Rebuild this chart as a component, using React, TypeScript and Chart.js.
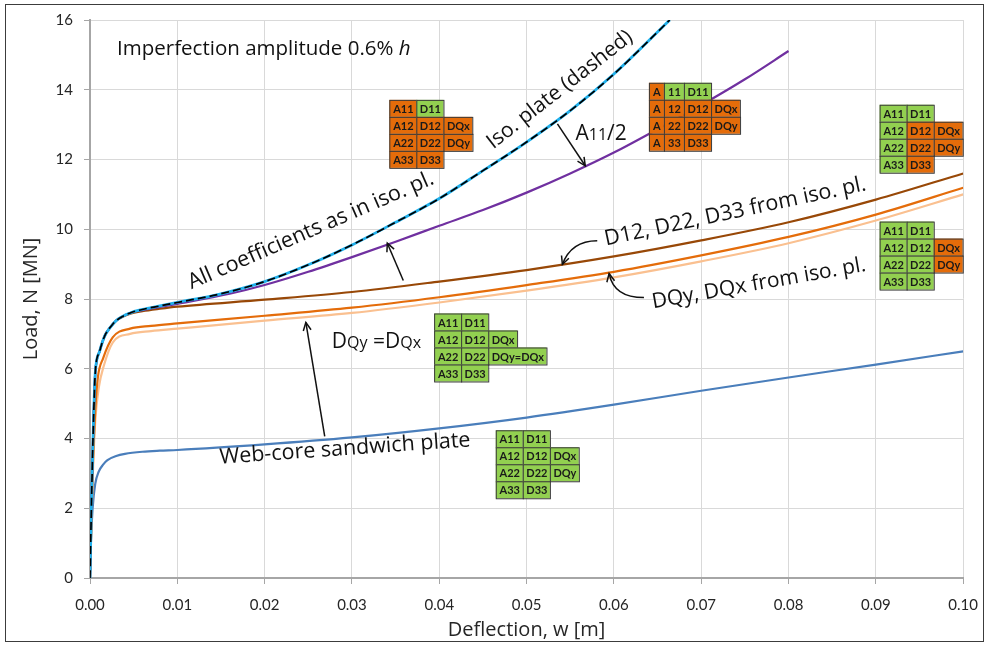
import React, { useEffect, useRef } from "react";
import { Chart, registerables } from "chart.js";
Chart.register(...registerables);

// ---------- data (deflection w [m] vs load N [MN]) ----------
const webX = [0, 0.0001, 0.0003, 0.0006, 0.001, 0.0015, 0.002, 0.003, 0.004, 0.006, 0.008, 0.01, 0.02, 0.03, 0.04, 0.05, 0.06, 0.07, 0.08, 0.09, 0.1];
const webY = [0, 1.0, 2.0, 2.7, 3.05, 3.25, 3.38, 3.5, 3.56, 3.62, 3.65, 3.67, 3.83, 4.03, 4.29, 4.6, 4.97, 5.37, 5.75, 6.12, 6.5];

const dqEqX = [0, 0.0003, 0.0006, 0.001, 0.0016, 0.0026, 0.0046, 0.007, 0.01, 0.02, 0.03, 0.04, 0.05, 0.06, 0.07, 0.08, 0.09, 0.1];
const dqEqY = [0, 2.8, 4.5, 5.45, 6.1, 6.75, 7.0, 7.08, 7.15, 7.38, 7.6, 7.9, 8.24, 8.62, 9.08, 9.6, 10.25, 11.0];

const dqIsoX = [0, 0.0003, 0.0006, 0.0009, 0.0015, 0.0026, 0.0046, 0.007, 0.01, 0.02, 0.03, 0.04, 0.05, 0.06, 0.07, 0.08, 0.09, 0.1];
const dqIsoY = [0, 3.0, 4.8, 5.75, 6.3, 6.9, 7.15, 7.23, 7.3, 7.52, 7.75, 8.05, 8.4, 8.78, 9.25, 9.78, 10.42, 11.19];

const dIsoX = [0, 0.0002, 0.0004, 0.0006, 0.0011, 0.0017, 0.0023, 0.003, 0.0046, 0.006, 0.008, 0.01, 0.02, 0.03, 0.04, 0.05, 0.06, 0.07, 0.08, 0.09, 0.1];
const dIsoY = [0, 2.5, 4.5, 5.87, 6.5, 6.95, 7.18, 7.38, 7.58, 7.65, 7.72, 7.78, 7.98, 8.2, 8.5, 8.83, 9.22, 9.68, 10.2, 10.85, 11.6];

const a11X = [0, 0.0002, 0.0004, 0.0006, 0.0011, 0.0017, 0.0023, 0.003, 0.0046, 0.006, 0.008, 0.01, 0.016, 0.02, 0.025, 0.03, 0.035, 0.04, 0.045, 0.05, 0.055, 0.06, 0.065, 0.07, 0.075, 0.08];
const a11Y = [0, 2.5, 4.5, 5.87, 6.5, 6.95, 7.18, 7.38, 7.6, 7.68, 7.77, 7.86, 8.15, 8.4, 8.78, 9.2, 9.64, 10.1, 10.55, 11.05, 11.6, 12.2, 12.87, 13.56, 14.3, 15.11];

const isoX = [0, 0.0002, 0.0004, 0.0006, 0.0011, 0.0017, 0.0023, 0.003, 0.0046, 0.006, 0.008, 0.01, 0.015, 0.02, 0.025, 0.03, 0.035, 0.04, 0.045, 0.05, 0.055, 0.06, 0.0664];
const isoY = [0, 2.5, 4.5, 5.87, 6.5, 6.95, 7.18, 7.38, 7.6, 7.7, 7.8, 7.9, 8.15, 8.5, 8.98, 9.55, 10.2, 10.88, 11.68, 12.5, 13.4, 14.45, 16];

const xTicks = [0, 0.01, 0.02, 0.03, 0.04, 0.05, 0.06, 0.07, 0.08, 0.09, 0.1];
const yTicks = [0, 2, 4, 6, 8, 10, 12, 14, 16];

// ---------- coefficient tables ----------
const tIsoText = [["A11", "D11"], ["A12", "D12", "DQx"], ["A22", "D22", "DQy"], ["A33", "D33"]];
const tIsoFill = [["o", "g"], ["o", "o", "o"], ["o", "o", "o"], ["o", "o"]];
const tA11Text = [["A", "11", "D11"], ["A", "12", "D12", "DQx"], ["A", "22", "D22", "DQy"], ["A", "33", "D33"]];
const tA11Fill = [["o", "g", "g"], ["o", "o", "o", "o"], ["o", "o", "o", "o"], ["o", "o", "o"]];
const tDText = [["A11", "D11"], ["A12", "D12", "DQx"], ["A22", "D22", "DQy"], ["A33", "D33"]];
const tDFill = [["g", "g"], ["g", "o", "o"], ["g", "o", "o"], ["g", "o"]];
const tDQText = [["A11", "D11"], ["A12", "D12", "DQx"], ["A22", "D22", "DQy"], ["A33", "D33"]];
const tDQFill = [["g", "g"], ["g", "g", "o"], ["g", "g", "o"], ["g", "g"]];
const tEqText = [["A11", "D11"], ["A12", "D12", "DQx"], ["A22", "D22", "DQy=DQx"], ["A33", "D33"]];
const tEqFill = [["g", "g"], ["g", "g", "g"], ["g", "g", "g"], ["g", "g"]];
const tWebText = [["A11", "D11"], ["A12", "D12", "DQx"], ["A22", "D22", "DQy"], ["A33", "D33"]];
const tWebFill = [["g", "g"], ["g", "g", "g"], ["g", "g", "g"], ["g", "g"]];

const pts = (xs: number[], ys: number[]) => xs.map((x, i) => ({ x, y: ys[i] }));

const FONT = "'Open Sans', Lato, sans-serif";
const TICKFONT = "Lato, 'Open Sans', sans-serif";
const GREEN = "#92D050";
const ORANGE = "#E46C0A";

type Seg = [string, number];

function drawRich(ctx: CanvasRenderingContext2D, segs: Seg[], x: number, y: number) {
  let cx = x;
  ctx.textAlign = "left";
  ctx.textBaseline = "alphabetic";
  for (const [t, s] of segs) {
    ctx.font = `${s}px ${FONT}`;
    ctx.fillText(t, cx, y);
    cx += ctx.measureText(t).width;
  }
}

function rotText(ctx: CanvasRenderingContext2D, text: string, x: number, y: number, deg: number, size: number) {
  ctx.save();
  ctx.translate(x, y);
  ctx.rotate((deg * Math.PI) / 180);
  ctx.font = `${size}px ${FONT}`;
  ctx.textAlign = "center";
  ctx.textBaseline = "middle";
  ctx.fillText(text, 0, 0);
  ctx.restore();
}

function arrowHead(ctx: CanvasRenderingContext2D, x: number, y: number, fx: number, fy: number) {
  const ang = Math.atan2(y - fy, x - fx);
  const L = 9, a = 0.45;
  ctx.beginPath();
  ctx.moveTo(x - L * Math.cos(ang - a), y - L * Math.sin(ang - a));
  ctx.lineTo(x, y);
  ctx.lineTo(x - L * Math.cos(ang + a), y - L * Math.sin(ang + a));
  ctx.stroke();
}

function drawTable(ctx: CanvasRenderingContext2D, left: number, top: number, text: string[][], fill: string[][], colW: number[]) {
  const h = 17;
  ctx.font = `bold 11px ${TICKFONT}`;
  ctx.textBaseline = "middle";
  ctx.textAlign = "center";
  text.forEach((row, r) => {
    let x = left;
    row.forEach((t, c) => {
      const w = Math.max(colW[c] ?? 27, ctx.measureText(t).width + 6);
      const y = top + r * h;
      ctx.fillStyle = fill[r][c] === "g" ? GREEN : ORANGE;
      ctx.fillRect(x, y, w, h);
      ctx.strokeStyle = "#3a3a3a";
      ctx.lineWidth = 1;
      ctx.strokeRect(x + 0.5, y + 0.5, w, h);
      ctx.fillStyle = "#1a1a1a";
      ctx.fillText(t, x + w / 2 + 0.5, y + h / 2 + 1);
      x += w;
    });
  });
}

const annotations = {
  id: "annotations",
  afterDatasetsDraw(chart: any) {
    const { ctx } = chart;
    const X = (v: number) => chart.scales.x.getPixelForValue(v);
    const Y = (v: number) => chart.scales.y.getPixelForValue(v);
    ctx.save();
    ctx.fillStyle = "#111";
    // header
    ctx.font = `20.5px ${FONT}`;
    ctx.textAlign = "left";
    ctx.textBaseline = "middle";
    const head = "Imperfection amplitude 0.6% ";
    ctx.fillText(head, X(0.0031), Y(15.17));
    const hw = ctx.measureText(head).width;
    ctx.font = `italic 20.5px ${FONT}`;
    ctx.fillText("h", X(0.0031) + hw, Y(15.17));

    ctx.fillStyle = "#111";
    rotText(ctx, "Iso. plate (dashed)", X(0.0538), Y(14.0), -38, 21);
    rotText(ctx, "All coefficients as in iso. pl.", X(0.0253), Y(9.96), -23.5, 21.5);
    rotText(ctx, "D12, D22, D33 from iso. pl.", X(0.0739), Y(10.5), -12, 21.5);
    rotText(ctx, "DQy, DQx from iso. pl.", X(0.0766), Y(8.44), -10, 21);
    rotText(ctx, "Web-core sandwich plate", X(0.0292), Y(3.7), -4, 21.5);
    ctx.fillStyle = "#111";
    drawRich(ctx, [["A", 21], ["11", 16], ["/2", 21]], X(0.0556), Y(12.55));
    drawRich(ctx, [["D", 21], ["Qy", 16], [" =", 21], ["D", 21], ["Qx", 16]], X(0.0277), Y(6.6));

    // arrows
    ctx.strokeStyle = "#111";
    ctx.lineWidth = 1.5;
    const straight = (x1: number, y1: number, x2: number, y2: number) => {
      ctx.beginPath();
      ctx.moveTo(X(x1), Y(y1));
      ctx.lineTo(X(x2), Y(y2));
      ctx.stroke();
      arrowHead(ctx, X(x2), Y(y2), X(x1), Y(y1));
    };
    straight(0.05353, 13.02, 0.05672, 11.82);
    straight(0.03588, 8.53, 0.03405, 9.6);
    straight(0.02688, 4.06, 0.02472, 7.33);
    const curved = (x1: number, y1: number, cx: number, cy: number, x2: number, y2: number) => {
      ctx.beginPath();
      ctx.moveTo(X(x1), Y(y1));
      ctx.quadraticCurveTo(X(cx), Y(cy), X(x2), Y(y2));
      ctx.stroke();
      arrowHead(ctx, X(x2), Y(y2), X(cx), Y(cy));
    };
    curved(0.05809, 9.67, 0.0551, 9.67, 0.0541, 8.99);
    curved(0.06344, 8.04, 0.06, 8.04, 0.05945, 8.73);

    // tables
    drawTable(ctx, X(0.03428), Y(13.71), tIsoText, tIsoFill, [27, 27, 27]);
    drawTable(ctx, X(0.06401), Y(14.2), tA11Text, tA11Fill, [15, 20, 26, 26]);
    drawTable(ctx, X(0.09043), Y(13.57), tDText, tDFill, [27, 27, 27]);
    drawTable(ctx, X(0.09043), Y(10.22), tDQText, tDQFill, [27, 27, 27]);
    drawTable(ctx, X(0.03941), Y(7.585), tEqText, tEqFill, [27, 27, 27]);
    drawTable(ctx, X(0.04647), Y(4.236), tWebText, tWebFill, [27, 27, 27]);
    ctx.restore();
  },
};

export default function App() {
  const ref = useRef<HTMLCanvasElement>(null);
  useEffect(() => {
    document.body.style.margin = "0";
    const line = (data: any, color: string, width: number, extra: any = {}) => ({
      data,
      borderColor: color,
      borderWidth: width,
      pointRadius: 0,
      fill: false,
      cubicInterpolationMode: "monotone",
      ...extra,
    });
    // first dataset is drawn on top
    const chart = new Chart(ref.current!, {
      type: "line",
      data: {
        datasets: [
          line(pts(isoX, isoY), "#000000", 1.7, { borderDash: [8, 4] }),
          line(pts(isoX, isoY), "#1FB0EC", 2.8),
          line(pts(a11X, a11Y), "#7030A0", 2.2),
          line(pts(dIsoX, dIsoY), "#984807", 2.2),
          line(pts(dqIsoX, dqIsoY), "#E46C0A", 2.2),
          line(pts(dqEqX, dqEqY), "#FAC090", 2.2),
          line(pts(webX, webY), "#4A7EBB", 2.2),
        ] as any,
      },
      options: {
        responsive: false,
        animation: false,
        layout: { padding: { left: 0, right: 22, top: 19, bottom: 0 } },
        plugins: { legend: { display: false }, tooltip: { enabled: false } },
        scales: {
          x: {
            type: "linear",
            min: 0,
            max: 0.1,
            afterFit: (s: any) => { s.height = 67; },
            afterBuildTicks: (s: any) => { s.ticks = xTicks.map((v) => ({ value: v })); },
            ticks: {
              callback: (v: any) => Number(v).toFixed(2),
              font: { family: TICKFONT, size: 15 },
              color: "#262626",
              padding: 12,
              maxRotation: 0,
              autoSkip: false,
            },
            grid: { color: "#D9D9D9", tickColor: "#A6A6A6", tickLength: 6, lineWidth: 1 },
            border: { color: "#A6A6A6", width: 2 },
            title: { display: true, text: "Deflection, w [m]", font: { family: FONT, size: 20 }, color: "#262626", padding: { top: 0, bottom: 3 } },
          },
          y: {
            type: "linear",
            min: 0,
            max: 16,
            afterFit: (s: any) => { s.width = 90; },
            afterBuildTicks: (s: any) => { s.ticks = yTicks.map((v) => ({ value: v })); },
            ticks: { font: { family: TICKFONT, size: 15 }, color: "#262626", padding: 11 },
            grid: { color: "#D9D9D9", tickColor: "#A6A6A6", tickLength: 6, lineWidth: 1 },
            border: { color: "#A6A6A6", width: 2 },
            title: { display: true, text: "Load, N [MN]", font: { family: FONT, size: 20 }, color: "#262626", padding: { top: 19, bottom: 0 } },
          },
        },
      } as any,
      plugins: [annotations],
    });
    return () => chart.destroy();
  }, []);
  return (
    <div style={{ position: "relative", width: 990, height: 645, background: "#fff" }}>
      <canvas ref={ref} width={990} height={645} style={{ position: "absolute", left: 0, top: 0, width: 990, height: 645 }} />
      <div style={{ position: "absolute", left: 5, top: 4, width: 977, height: 636, border: "1px solid #3c3c3c", pointerEvents: "none" }} />
    </div>
  );
}
